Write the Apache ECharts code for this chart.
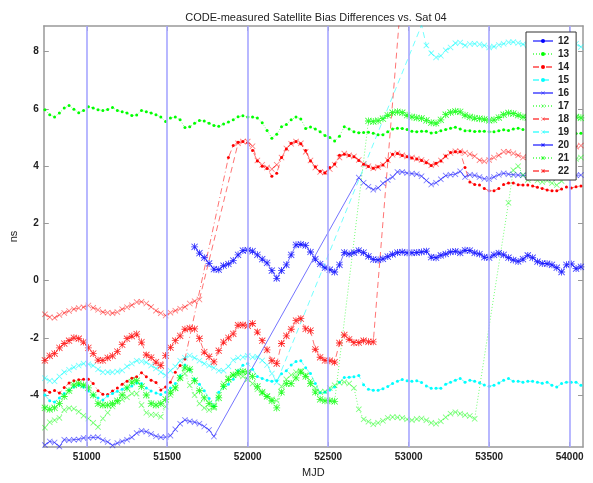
<!DOCTYPE html>
<html>
<head>
<meta charset="utf-8">
<script src="https://cdn.jsdelivr.net/npm/echarts@6/dist/echarts.min.js"></script>
<style>html,body{margin:0;padding:0;background:#fff;}#c{width:593px;height:483px;}</style>
</head>
<body>
<div id="c"></div>
<script>
// MJD sampling grid (days)
const mjd = [50740,50770,50800,50830,50860,50890,50920,50950,50980,51010,
51040,51070,51100,51130,51160,51190,51220,51250,51280,51310,
51340,51370,51400,51430,51460,51490,51520,51550,51580,51610,
51640,51670,51700,51730,51760,51790,51820,51850,51880,51910,
51940,51970,52000,52030,52060,52090,52120,52150,52180,52210,
52240,52270,52300,52330,52360,52390,52420,52450,52480,52510,
52540,52570,52600,52630,52660,52690,52720,52750,52780,52810,
52840,52870,52900,52930,52960,52990,53020,53050,53080,53110,
53140,53170,53200,53230,53260,53290,53320,53350,53380,53410,
53440,53470,53500,53530,53560,53590,53620,53650,53680,53710,
53740,53770,53800,53830,53860,53890,53920,53950,53980,54010,
54040,54070];

const xTicks = [51000,51500,52000,52500,53000,53500,54000];
const yTicks = [-4,-2,0,2,4,6,8];
const boundaryMjd = [51000,51500,52000,52500,53000,53500,54000];

const s12 = [];
const s13 = [5.97,5.8,5.72,5.86,6.03,6.12,5.99,5.87,5.95,6.08,
6.03,5.97,5.95,5.98,6.05,5.95,5.9,5.86,5.77,5.79,
5.95,5.9,5.86,5.8,5.72,5.56,5.68,5.72,5.62,5.35,
5.38,5.5,5.6,5.58,5.5,5.42,5.4,5.47,5.54,5.62,
5.73,5.76,5.72,5.72,5.68,5.52,5.25,4.98,5.12,5.38,
5.46,5.62,5.72,5.65,5.32,5.37,5.3,5.2,5.07,5.0,
4.88,5.05,5.38,5.3,5.2,5.17,5.18,5.19,5.15,5.1,
5.1,5.2,5.3,5.33,5.32,5.28,5.22,5.2,5.22,5.22,
5.16,5.18,5.24,5.28,5.33,5.36,5.3,5.24,5.24,5.21,
5.22,5.22,5.2,5.2,5.24,5.27,5.25,5.3,5.33,5.28,
5.25,5.22,5.2,5.18,5.2,5.22,5.2,5.18,5.16,5.15,5.14,5.15];
const s14 = [-3.83,-3.9,-3.84,-3.93,-3.74,-3.58,-3.5,-3.47,-3.45,-3.45,
-3.6,-3.85,-3.97,-3.98,-3.86,-3.75,-3.62,-3.52,-3.41,-3.36,
-3.22,-3.36,-3.48,-3.56,-3.82,-3.72,-3.55,-3.2,-2.97,-2.74,
null,null,null,null,null,null,null,null,4.3,4.72,
4.84,4.86,4.82,4.55,4.18,4.0,3.92,3.65,3.75,4.3,
4.6,4.8,4.86,4.78,4.55,4.18,3.98,3.82,3.76,3.95,
4.08,4.38,4.42,4.37,4.33,4.2,4.07,3.99,3.93,3.98,
4.04,4.2,4.42,4.44,4.37,4.33,4.29,4.25,4.2,4.12,
4.02,4.1,4.18,4.36,4.48,4.5,4.5,3.95,3.45,3.36,
3.34,3.22,3.14,3.14,3.22,3.36,3.41,3.41,3.35,3.34,
3.34,3.31,3.26,3.22,3.17,3.14,3.14,3.2,3.27,3.24,3.28,3.31];
const s15 = [-4.0,-4.2,-4.24,-4.1,-3.95,-3.82,-3.72,-3.66,-3.72,-3.86,
-4.0,-4.1,-4.17,-4.03,-3.95,-3.87,-3.8,-3.75,-3.68,-3.58,
-3.6,-3.75,-3.86,-3.93,-3.98,-3.9,-3.75,-3.6,-3.33,-2.95,
-3.12,-3.45,-3.62,-3.85,-4.12,-4.38,-3.9,-3.72,-3.62,-3.45,
-3.15,-2.96,-2.9,-3.1,-3.35,-3.42,-3.48,-3.52,-3.5,-3.26,
-3.15,-2.95,-2.83,-2.8,-3.05,-3.25,-3.6,-3.92,-3.9,-3.82,
-3.72,-3.55,-3.39,-3.38,-3.36,-3.32,-3.64,-3.8,-3.83,-3.83,
-3.78,-3.7,-3.6,-3.52,-3.46,-3.5,-3.52,-3.5,-3.56,-3.68,
-3.76,-3.76,-3.76,-3.62,-3.55,-3.48,-3.42,-3.55,-3.48,-3.52,
-3.57,-3.65,-3.69,-3.66,-3.58,-3.48,-3.42,-3.52,-3.52,-3.55,
-3.52,-3.52,-3.55,-3.59,-3.55,-3.66,-3.72,-3.6,-3.55,-3.55,-3.55,-3.66];
const s16 = [-5.75,-5.62,-5.66,-5.8,-5.56,-5.58,-5.56,-5.55,-5.5,-5.5,
-5.48,-5.48,-5.58,-5.64,-5.76,-5.68,-5.62,-5.56,-5.48,-5.33,
-5.25,-5.28,-5.36,-5.44,-5.48,-5.47,-5.42,-5.2,-5.0,-4.87,
-4.92,-4.95,-5.0,-5.1,-5.22,-5.45,null,null,null,null,
null,null,null,null,null,null,null,null,null,null,
null,null,null,null,null,null,null,null,null,null,
null,null,null,null,null,3.6,3.42,3.28,3.18,3.24,
3.4,3.52,3.62,3.8,3.8,3.76,3.74,3.72,3.65,3.5,
3.36,3.42,3.54,3.67,3.7,3.72,3.82,3.62,3.7,3.68,
3.62,3.56,3.55,3.62,3.7,3.75,3.72,3.7,3.69,3.68,
3.66,3.64,3.62,3.6,3.6,3.58,3.6,3.62,3.64,3.66,3.68,3.69];
const s17 = [-5.14,-4.95,-4.88,-4.8,-4.52,-4.46,-4.48,-4.58,-4.72,-4.82,
-4.97,-5.12,-4.82,-4.62,-4.4,-4.25,-4.16,-4.08,-3.95,-3.95,
-4.35,-4.62,-4.69,-4.69,-4.76,-4.4,-4.0,-3.76,-3.4,-3.25,
-3.66,-4.0,-4.3,-4.45,-4.52,-4.45,-4.0,-3.6,-3.4,-3.3,
-3.3,-3.35,-3.45,-3.6,-3.8,-3.93,-4.05,-4.15,-4.2,-3.7,
-3.45,-3.3,-3.2,-3.15,-3.3,-3.5,-3.76,-3.9,-3.88,-3.75,
-3.66,-3.57,-3.55,-3.6,-3.75,-4.5,-4.85,-4.93,-5.02,-4.97,
-4.9,-4.8,-4.77,-4.78,-4.8,-4.85,-4.88,-4.84,-4.82,-4.88,
-4.97,-5.0,-4.92,-4.78,-4.65,-4.6,-4.65,-4.7,-4.73,-4.83,
null,null,null,null,null,null,2.72,3.86,4.0,3.69,
3.52,3.58,3.5,3.45,3.5,3.41,3.34,3.48,3.8,4.1,4.25,4.3];
const s18 = [-1.18,-1.28,-1.3,-1.2,-1.13,-1.06,-1.0,-0.96,-0.93,-0.87,
-0.95,-1.02,-1.1,-1.12,-1.14,-1.1,-1.0,-0.93,-0.86,-0.75,
-0.74,-0.8,-0.92,-1.05,-1.14,-1.22,-1.12,-1.05,-0.98,-0.92,
-0.8,-0.72,-0.66,null,null,null,null,null,null,null,
4.8,4.86,4.86,4.7,4.2,4.05,3.95,3.9,4.05,4.3,
4.62,4.78,4.86,4.8,4.5,4.2,3.95,3.8,3.78,3.9,
4.05,4.3,4.44,4.38,4.34,4.22,4.08,4.0,3.93,3.97,
4.05,4.21,4.4,4.45,4.38,4.34,4.3,4.26,4.22,4.15,
4.03,4.08,4.2,4.34,4.46,4.52,4.52,4.47,4.42,4.35,
4.21,4.17,4.22,4.3,4.38,4.5,4.5,4.45,4.38,4.3,
4.32,4.36,4.4,4.45,4.5,4.48,4.44,4.5,4.58,4.62,4.68,4.72];
const s19 = [-3.41,-3.5,-3.52,-3.35,-3.2,-3.12,-3.03,-2.97,-2.9,-2.92,
-2.97,-3.1,-3.2,-3.2,-3.2,-3.18,-3.14,-3.0,-2.9,-2.8,
-2.82,-2.86,-2.97,-3.07,-3.2,-3.31,-3.15,-3.0,-2.8,-2.7,
-2.62,-2.7,-2.8,-2.9,-2.97,-3.05,-3.15,-3.15,-3.0,-2.78,
-2.7,-2.68,-2.63,-2.68,-2.66,-2.79,-2.95,-3.25,-3.55,null,
null,null,null,null,null,null,null,null,null,null,
null,null,null,null,null,null,null,null,null,null,
null,null,null,null,null,null,null,null,8.93,8.22,
7.95,7.8,7.86,8.05,8.15,8.3,8.32,8.22,8.27,8.28,
8.26,8.22,8.15,8.18,8.24,8.28,8.33,8.34,8.31,8.26,
8.22,8.2,8.22,8.25,8.28,8.3,8.28,8.26,8.3,8.32,8.28,8.17];
const s20 = [null,null,null,null,null,null,null,null,null,null,
null,null,null,null,null,null,null,null,null,null,
null,null,null,null,null,null,null,null,null,null,
null,1.18,0.96,0.8,0.6,0.4,0.38,0.52,0.58,0.7,
0.9,1.05,1.07,1.03,0.9,0.75,0.62,0.35,0.08,0.35,
0.55,0.9,1.25,1.27,1.23,1.0,0.75,0.58,0.45,0.38,
0.3,0.55,0.98,0.93,0.98,1.05,0.98,0.85,0.74,0.72,
0.76,0.84,0.92,0.98,1.0,0.97,0.97,0.98,1.0,1.03,
0.82,0.8,0.88,0.93,1.0,1.02,0.97,1.06,1.05,0.97,
0.93,0.82,0.8,0.9,0.96,0.9,0.8,0.72,0.67,0.75,
0.88,0.8,0.66,0.6,0.59,0.55,0.45,0.3,0.55,0.58,0.42,0.48];
const s21 = [-4.45,-4.5,-4.45,-4.3,-4.05,-3.85,-3.65,-3.6,-3.65,-3.75,
-4.0,-4.3,-4.35,-4.35,-4.3,-4.2,-4.0,-3.75,-3.55,-3.5,
-3.7,-4.0,-4.3,-4.35,-4.3,-4.15,-3.9,-3.75,-3.4,-3.05,
-3.1,-3.5,-3.85,-4.1,-4.3,-4.4,-4.1,-3.7,-3.45,-3.3,
-3.2,-3.18,-3.2,-3.35,-3.7,-3.9,-4.05,-4.2,-4.45,-3.9,
-3.6,-3.6,-3.4,-3.2,-3.35,-3.6,-3.9,-4.15,-4.2,-4.2,
-4.22,null,null,null,null,null,null,5.58,5.56,5.59,
5.66,5.78,5.87,5.9,5.87,5.78,5.72,5.69,5.67,5.6,
5.52,5.5,5.62,5.8,5.88,5.92,5.9,5.78,5.72,5.68,
5.66,5.64,5.6,5.62,5.7,5.8,5.86,5.84,5.78,5.72,
5.7,5.68,5.7,5.74,5.78,5.8,5.76,5.72,5.74,5.76,5.72,5.69];
const s22 = [-2.79,-2.63,-2.55,-2.35,-2.2,-2.1,-2.0,-2.03,-2.15,-2.35,
-2.55,-2.78,-2.79,-2.7,-2.63,-2.48,-2.24,-2.03,-1.94,-1.87,
-2.15,-2.6,-2.69,-2.85,-2.97,-2.62,-2.34,-2.1,-1.93,-1.7,
-1.66,-1.69,-2.03,-2.5,-2.66,-2.84,-2.45,-2.15,-2.0,-1.86,
-1.56,-1.55,-1.58,-1.5,-1.8,-2.1,-2.42,-2.8,-2.9,-2.2,
-1.93,-1.7,-1.4,-1.33,-1.69,-1.75,-2.4,-2.68,-2.79,-2.8,
-2.85,-2.18,-1.9,-2.05,-2.17,-2.17,-2.1,-2.14,-2.14,null,
null,null,null,null,10.4,null,null,null,null,null,
null,null,null,null,null,null,null,null,null,null,
null,null,null,null,null,null,null,null,null,null,
null,null,null,null,null,null,null,null,null,null,null,null];

const BLUE='#0000ff', GREEN='#00ff00', RED='#ff0000', CYAN='#00ffff';
const X_PATH='path://M0,1L1,0L5,4L9,0L10,1L6,5L10,9L9,10L5,6L1,10L0,9L4,5Z';
const STAR_PATH='path://M4.4,0H5.6V10H4.4Z M0,4.4H10V5.6H0Z M1,0.2L5,4.2L9,0.2L9.8,1L5.8,5L9.8,9L9,9.8L5,5.8L1,9.8L0.2,9L4.2,5L0.2,1Z';
const DOT='circle';

const styles = {
  solid: 'solid',
  dotted: [1,2],
  dashdot: [6,3,1,3],
  dashed: [6,4]
};

const defs = [
  {name:'12', vals:s12, color:BLUE,  line:styles.solid,   sym:DOT,       size:3, mop:1},
  {name:'13', vals:s13, color:GREEN, line:styles.dotted,  sym:DOT,       size:3, mop:1},
  {name:'14', vals:s14, color:RED,   line:styles.dashdot, sym:DOT,       size:3, mop:1},
  {name:'15', vals:s15, color:CYAN,  line:styles.dashed,  sym:DOT,       size:3, mop:1},
  {name:'16', vals:s16, color:BLUE,  line:styles.solid,   sym:X_PATH,    size:6, mop:0.5},
  {name:'17', vals:s17, color:GREEN, line:styles.dotted,  sym:X_PATH,    size:6, mop:0.5},
  {name:'18', vals:s18, color:RED,   line:styles.dashed,  sym:X_PATH,    size:6, mop:0.5},
  {name:'19', vals:s19, color:CYAN,  line:styles.dashed,  sym:X_PATH,    size:6, mop:0.55},
  {name:'20', vals:s20, color:BLUE,  line:styles.solid,   sym:STAR_PATH, size:7, mop:0.8},
  {name:'21', vals:s21, color:GREEN, line:styles.dotted,  sym:STAR_PATH, size:7, mop:0.8},
  {name:'22', vals:s22, color:RED,   line:styles.dashed,  sym:STAR_PATH, size:7, mop:0.8}
];

const series = defs.map(d => ({
  name: d.name,
  type: 'line',
  data: d.vals.map((v,i) => [mjd[i], v == null ? '-' : v]),
  connectNulls: true,
  symbol: d.sym,
  symbolSize: d.size,
  showSymbol: true,
  clip: true,
  animation: false,
  itemStyle: {color: d.color, opacity: d.mop},
  lineStyle: {color: d.color, width: 1, type: d.line, opacity: 0.55},
  emphasis: {disabled: true},
  z: 3
}));

series.push({
  name: 'bounds',
  type: 'line',
  data: [],
  animation: false,
  silent: true,
  markLine: {
    silent: true,
    symbol: 'none',
    label: {show: false},
    lineStyle: {color: '#a6a6ff', width: 1.6, type: 'solid', opacity: 1},
    data: boundaryMjd.map(m => ({xAxis: m})),
    animation: false
  },
  z: 1
});

const axisLineStyle = {show: true, onZero: false, lineStyle: {color: '#999999', width: 1.5}};
const labelStyle = {fontFamily: 'Liberation Sans, Arial, sans-serif', fontSize: 10, fontWeight: 'bold', color: '#222'};
const plain = v => String(v);

const chart = echarts.init(document.getElementById('c'), null, {renderer: 'canvas'});
chart.setOption({
  animation: false,
  backgroundColor: '#fff',
  title: {
    text: 'CODE-measured Satellite Bias Differences vs. Sat 04',
    left: 311, top: 7, textAlign: 'center',
    textStyle: {fontFamily: 'Liberation Sans, Arial, sans-serif', fontSize: 11, fontWeight: 'normal', color: '#222'}
  },
  grid: {left: 40, right: 10, top: 26, bottom: 30, containLabel: false},
  legend: {
    data: defs.map(d => d.name),
    orient: 'vertical',
    left: 526, top: 32,
    itemWidth: 20, itemHeight: 5, itemGap: 1,
    padding: [3, 7, 3, 6],
    backgroundColor: '#fff',
    borderColor: '#333', borderWidth: 1,
    selectedMode: false,
    textStyle: {fontFamily: 'Liberation Sans, Arial, sans-serif', fontSize: 10, fontWeight: 'bold', color: '#222', lineHeight: 12},
    z: 10
  },
  xAxis: [{
    type: 'value', min: 50733, max: 54083, position: 'bottom',
    name: 'MJD', nameLocation: 'middle', nameGap: 18,
    nameTextStyle: {fontFamily: 'Liberation Sans, Arial, sans-serif', fontSize: 11, color: '#222'},
    axisLine: axisLineStyle,
    axisTick: {show: true, inside: true, length: 5, customValues: xTicks, lineStyle: {color: '#999999'}},
    axisLabel: Object.assign({show: true, margin: 5, customValues: xTicks, formatter: plain}, labelStyle),
    splitLine: {show: false}
  }, {
    type: 'value', min: 50733, max: 54083, position: 'top',
    axisLine: axisLineStyle,
    axisTick: {show: true, inside: true, length: 5, customValues: xTicks, lineStyle: {color: '#999999'}},
    axisLabel: {show: false},
    splitLine: {show: false}
  }],
  yAxis: [{
    type: 'value', min: -5.82, max: 8.9, position: 'left',
    name: 'ns', nameLocation: 'middle', nameGap: 22, nameRotate: 90,
    nameTextStyle: {fontFamily: 'Liberation Sans, Arial, sans-serif', fontSize: 11, color: '#222'},
    axisLine: axisLineStyle,
    axisTick: {show: true, inside: true, length: 5, customValues: yTicks, lineStyle: {color: '#999999'}},
    axisLabel: Object.assign({show: true, margin: 5, customValues: yTicks, formatter: plain}, labelStyle),
    splitLine: {show: false}
  }, {
    type: 'value', min: -5.82, max: 8.9, position: 'right',
    axisLine: axisLineStyle,
    axisTick: {show: true, inside: true, length: 5, customValues: yTicks, lineStyle: {color: '#999999'}},
    axisLabel: {show: false},
    splitLine: {show: false}
  }],
  series: series
});
</script>
</body>
</html>
